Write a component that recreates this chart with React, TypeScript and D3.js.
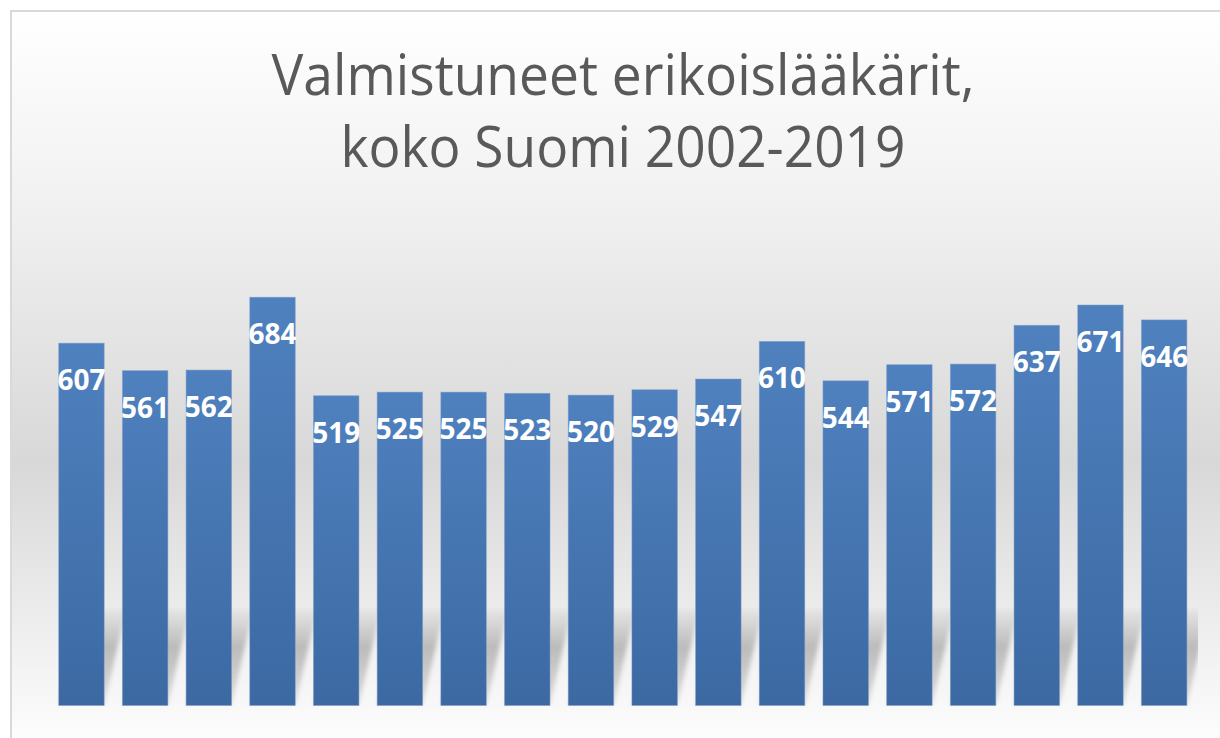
import React from "react";
import * as d3 from "d3";

const years = ["2002","2003","2004","2005","2006","2007","2008","2009","2010","2011","2012","2013","2014","2015","2016","2017","2018","2019"];
const values = [607, 561, 562, 684, 519, 525, 525, 523, 520, 529, 547, 610, 544, 571, 572, 637, 671, 646];
const titleLines = ["Valmistuneet erikoislääkärit,", "koko Suomi 2002-2019"];

const W = 1220;
const H = 738;
const plot = { left: 49.6, right: 1196, top: 228, bottom: 705.5 };

export default function App() {
  const x = d3.scaleBand<string>()
    .domain(years)
    .range([plot.left, plot.right])
    .paddingInner(0.286)
    .paddingOuter(0.143);
  const y = d3.scaleLinear().domain([0, 800]).range([plot.bottom, plot.top]);
  const bw = x.bandwidth();
  const shTop = 608;
  const shift = 22;

  return (
    <div style={{ position: "absolute", left: 0, top: 0, width: W, height: H, overflow: "hidden", background: "#fff" }}>
      <svg width={W} height={H} style={{ display: "block" }}>
        <defs>
          <linearGradient id="bg" x1="0" y1="10" x2="0" y2="740" gradientUnits="userSpaceOnUse">
            <stop offset="0" stopColor="#ffffff" />
            <stop offset="0.25" stopColor="#f2f2f2" />
            <stop offset="0.62" stopColor="#d8d8d8" />
            <stop offset="0.93" stopColor="#f6f6f6" />
            <stop offset="1" stopColor="#fdfdfd" />
          </linearGradient>
          <linearGradient id="bar" x1="0" y1="0" x2="0" y2="1">
            <stop offset="0" stopColor="#4f81bf" />
            <stop offset="1" stopColor="#3c69a2" />
          </linearGradient>
          <linearGradient id="sh" x1="0" y1={shTop} x2="0" y2={plot.bottom} gradientUnits="userSpaceOnUse">
            <stop offset="0" stopColor="#000" stopOpacity="0.02" />
            <stop offset="0.4" stopColor="#000" stopOpacity="0.22" />
            <stop offset="1" stopColor="#000" stopOpacity="0.1" />
          </linearGradient>
          <filter id="blur" x="-20%" y="-20%" width="140%" height="140%">
            <feGaussianBlur stdDeviation="2" />
          </filter>
          <clipPath id="shclip">
            <rect x={plot.left} y={shTop} width={1198 - plot.left} height={plot.bottom - shTop} />
          </clipPath>
        </defs>

        <rect x={11} y={11} width={W + 20} height={H + 20} fill="url(#bg)" stroke="#d9d9d9" strokeWidth={2} />

        <g fontFamily="'Open Sans', sans-serif" fontSize={57} fill="#595959" textAnchor="middle">
          <text x={623} y={95} textLength={703} lengthAdjust="spacingAndGlyphs">{titleLines[0]}</text>
          <text x={623} y={167} textLength={565} lengthAdjust="spacingAndGlyphs">{titleLines[1]}</text>
        </g>

        <g clipPath="url(#shclip)">
          <g filter="url(#blur)">
            {years.map((yr) => {
              const x0 = x(yr)!;
              const x1 = x0 + bw;
              const pts = `${x0},${plot.bottom} ${x1},${plot.bottom} ${x1 + shift},${shTop} ${x0 + shift},${shTop}`;
              return <polygon key={yr} points={pts} fill="url(#sh)" />;
            })}
          </g>
        </g>

        <g>
          {years.map((yr, i) => (
            <rect
              key={yr}
              x={x(yr)!}
              y={y(values[i])}
              width={bw}
              height={y(0) - y(values[i])}
              fill="url(#bar)"
              stroke="#7b9bcb"
              strokeOpacity={0.6}
              strokeWidth={0.8}
            />
          ))}
        </g>

        <g fontFamily="'Open Sans', sans-serif" fontWeight={700} fontSize={28} fill="#ffffff" textAnchor="middle">
          {years.map((yr, i) => (
            <text key={yr} x={x(yr)! + bw / 2} y={y(values[i]) + 47}>{values[i]}</text>
          ))}
        </g>
      </svg>
    </div>
  );
}
